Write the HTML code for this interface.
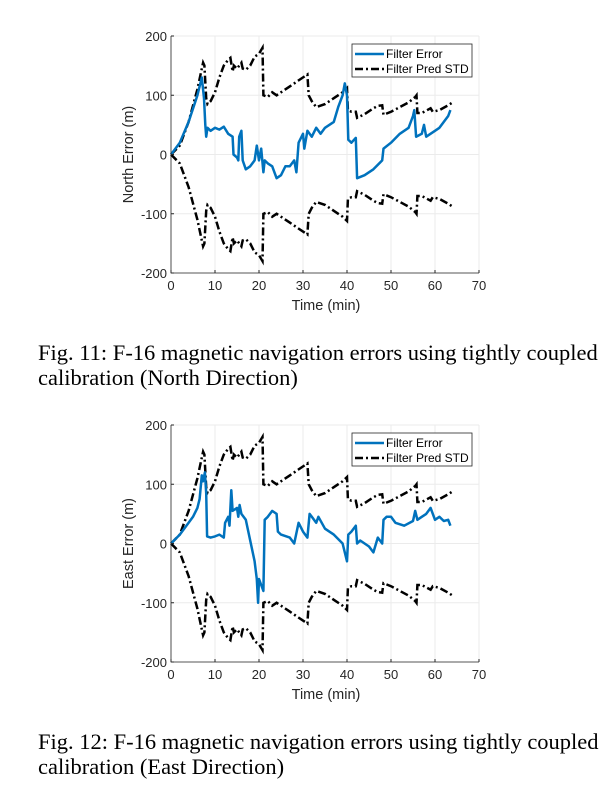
<!DOCTYPE html>
<html><head><meta charset="utf-8">
<style>
body{margin:0;background:#fff;width:610px;height:786px;overflow:hidden;position:relative}
svg{position:absolute;left:0;top:0}
.cap{position:absolute;left:38px;font-family:"Liberation Serif",serif;font-size:22.5px;line-height:25px;color:#000;white-space:nowrap}
</style></head><body>
<svg id="s" width="610" height="786" font-family="Liberation Sans, sans-serif"></svg>
<div class="cap" style="top:340px">Fig. 11: F-16 magnetic navigation errors using tightly coupled<br>calibration (North Direction)</div>
<div class="cap" style="top:729px">Fig. 12: F-16 magnetic navigation errors using tightly coupled<br>calibration (East Direction)</div>
<script>
const std=[[0,0],[2,15],[4,55],[6,110],[7,145],[7.3,155],[7.6,150],[8,95],[8.3,85],[9,90],[10,105],[11,130],[12,150],[13,160],[13.5,163],[14,140],[14.3,150],[15,145],[16,155],[16.3,145],[17,143],[18,150],[19,165],[20,170],[20.8,180],[21,100],[22,97],[23,105],[24,100],[25,105],[27,115],[29,125],[31,135],[31.3,100],[32,90],[33,80],[35,85],[37,95],[39,105],[40,112],[40.2,75],[41,72],[42,72],[42.3,62],[44,68],[46,78],[47,82],[48,83],[48.3,67],[50,72],[52,80],[54,88],[55.5,97],[55.8,100],[56,70],[57,70],[59,78],[59.5,72],[61,75],[63,83],[64,88]];
const north=[[0,0],[2,20],[4,55],[6,100],[7,130],[7.5,95],[7.8,50],[8,30],[8.3,45],[9,40],[10,45],[11,42],[12,47],[13,35],[14,30],[14.2,0],[15,-5],[15.3,-10],[15.5,30],[16,40],[16.3,-10],[17,-25],[18,-20],[19,-10],[19.5,15],[20,-10],[20.5,10],[21,-30],[21.3,-10],[22,-15],[23,-20],[24,-40],[25,-35],[26,-20],[27,-20],[28,-10],[28.5,-30],[29,20],[30,35],[30.3,10],[31,40],[32,30],[33,45],[34,35],[35,45],[37,55],[38,80],[39,100],[39.5,120],[40,100],[40.3,25],[41,20],[42,28],[42.3,-40],[44,-35],[46,-25],[48,-10],[48.3,10],[50,20],[52,35],[54,45],[55,65],[55.3,75],[55.7,30],[57,35],[57.5,50],[58,30],[60,40],[61,45],[62,55],[63,65],[63.5,75]];
const east=[[0,0],[2,15],[4,35],[5,45],[6,60],[6.5,75],[7,115],[7.3,105],[7.7,120],[8,85],[8.2,12],[9,10],[10,12],[11,15],[12,10],[12.3,35],[13,45],[13.3,30],[13.7,90],[14,55],[15,60],[15.3,45],[15.6,65],[16,50],[17,40],[18,5],[19,-30],[19.5,-60],[19.8,-100],[20,-60],[20.5,-70],[21,-80],[21.3,40],[22,45],[23,55],[24,50],[24.3,20],[25,15],[27,10],[28,0],[29,35],[30,20],[31,10],[31.5,50],[32,45],[33,35],[33.5,45],[35,25],[37,15],[39,0],[40,-30],[40.3,15],[41,20],[42,30],[42.3,0],[43,5],[45,-5],[46,-15],[47,10],[48,0],[48.3,40],[49,45],[50,45],[51,35],[53,30],[55,38],[55.5,55],[56,40],[57,45],[58,50],[59,60],[60,40],[61,45],[62,38],[63,40],[63.5,30]];
let h='';
function plot(top,data,ylab){
 const L=171,R=479,T=top,B=top+237,zx=t=>L+t*(R-L)/70,zy=v=>(T+B)/2-v*(B-T)/400;
 for(let i=0;i<=7;i++){const x=zx(i*10);h+=`<line x1="${x}" y1="${T}" x2="${x}" y2="${B}" stroke="#ebebeb"/>`;}
 for(let i=-2;i<=2;i++){const y=zy(i*100);h+=`<line x1="${L}" y1="${y}" x2="${R}" y2="${y}" stroke="#ebebeb"/>`;}
 const pth=(d,s)=>d.map((p,i)=>(i?'L':'M')+zx(p[0]).toFixed(1)+','+zy(s*p[1]).toFixed(1)).join('');
 h+=`<path d="${pth(std,1)}" fill="none" stroke="#000" stroke-width="2.5" stroke-dasharray="8,3,2,3"/>`;
 h+=`<path d="${pth(std,-1)}" fill="none" stroke="#000" stroke-width="2.5" stroke-dasharray="8,3,2,3"/>`;
 h+=`<path d="${pth(data,1)}" fill="none" stroke="#0072bd" stroke-width="2.5" stroke-linejoin="round"/>`;
 h+=`<path d="M${L},${T}V${B}H${R}" fill="none" stroke="#262626" stroke-width="0.8"/>`;
 for(let i=0;i<=7;i++){const x=zx(i*10);h+=`<line x1="${x}" y1="${B}" x2="${x}" y2="${B-3}" stroke="#262626"/><text x="${x}" y="${B+17}" font-size="13" fill="#262626" text-anchor="middle">${i*10}</text>`;}
 for(let i=-2;i<=2;i++){const y=zy(i*100);h+=`<line x1="${L}" y1="${y}" x2="${L+3}" y2="${y}" stroke="#262626"/><text x="${L-4}" y="${y+5}" font-size="13" fill="#262626" text-anchor="end">${i*100}</text>`;}
 h+=`<text x="${(L+R)/2+1}" y="${B+37}" font-size="14.5" fill="#262626" text-anchor="middle">Time (min)</text>`;
 h+=`<text transform="translate(133,${(T+B)/2}) rotate(-90)" font-size="14.5" fill="#262626" text-anchor="middle">${ylab}</text>`;
 const ly=T+8;
 h+=`<rect x="352" y="${ly}" width="120" height="33" fill="#fff" stroke="#262626" stroke-width="0.8"/>`;
 h+=`<line x1="355" y1="${ly+10}" x2="384" y2="${ly+10}" stroke="#0072bd" stroke-width="2.5"/><text x="386" y="${ly+14}" font-size="12" fill="#000">Filter Error</text>`;
 h+=`<line x1="355" y1="${ly+25}" x2="384" y2="${ly+25}" stroke="#000" stroke-width="2.5" stroke-dasharray="8,3,2,3"/><text x="386" y="${ly+29}" font-size="12" fill="#000">Filter Pred STD</text>`;
}
plot(36,north,'North Error (m)');
plot(425,east,'East Error (m)');
document.getElementById('s').innerHTML=h;
</script>
</body></html>
